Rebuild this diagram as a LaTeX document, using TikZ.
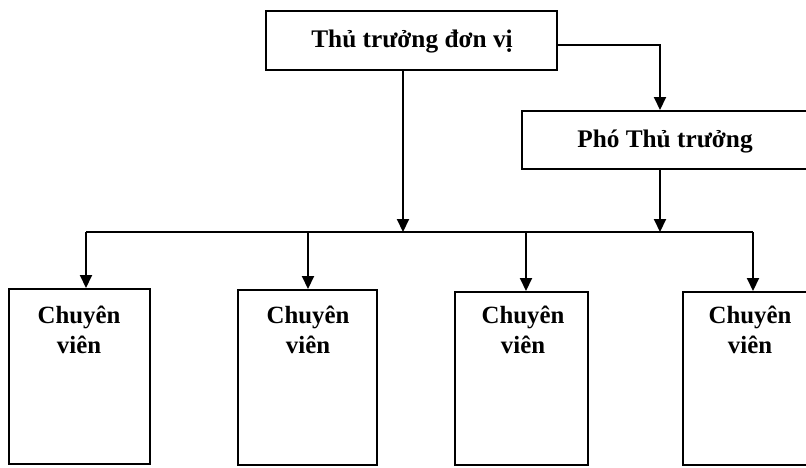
\documentclass[tikz,border=0pt]{standalone}
\usepackage{fontspec}
\setmainfont{Liberation Serif}
\usetikzlibrary{arrows.meta}
\begin{document}
\begin{tikzpicture}[x=1pt,y=-1pt,line width=2pt,
  box/.style={draw,line width=2pt,inner sep=0pt,rectangle},
  lbl/.style={font=\fontsize{25.3}{29}\selectfont\bfseries,anchor=base,inner sep=0pt},
  cv/.style={font=\fontsize{24.8}{28}\selectfont\bfseries,anchor=base,inner sep=0pt},
  arr/.style={-{Triangle[width=12pt,length=13pt]},line width=2pt}]
\useasboundingbox (0,0) rectangle (806,467);
\clip (0,0) rectangle (806,467);
% boxes
\node[box,minimum width=291pt,minimum height=59pt] (top) at (411.5,40.5) {};
\node[box,minimum width=286pt,minimum height=58pt] (pho) at (665,140) {};
\node[box,minimum width=141pt,minimum height=175pt] (c1) at (79.5,376.5) {};
\node[box,minimum width=139pt,minimum height=175pt] (c2) at (307.5,377.5) {};
\node[box,minimum width=133pt,minimum height=173pt] (c3) at (521.5,378.5) {};
\node[box,minimum width=134pt,minimum height=173pt] (c4) at (750,378.5) {};
% labels
\node[lbl] (ttop) at (412,47) {Thủ trưởng đơn vị};
\node[lbl] (tpho) at (665,147) {Phó Thủ trưởng};
\node[cv] (t1a) at (79,323) {Chuyên};
\node[cv] (t1b) at (79,353) {viên};
\node[cv] (t2a) at (308,323) {Chuyên};
\node[cv] (t2b) at (308,353) {viên};
\node[cv] (t3a) at (523,323) {Chuyên};
\node[cv] (t3b) at (523,353) {viên};
\node[cv] (t4a) at (750,323) {Chuyên};
\node[cv] (t4b) at (750,353) {viên};
% connectors
\coordinate (k) at (660,45);
\coordinate (m) at (403,232);
\coordinate (j1) at (86,232);
\coordinate (j2) at (308,232);
\coordinate (j3) at (526,232);
\coordinate (j4) at (753,232);
\draw[arr] (top.east |- k) -| (pho.north -| k);
\draw[arr] (top.south -| m) -- (m);
\draw[arr] (pho.south -| k) -- (k |- j1);
\draw (j1) -- (j4);
\draw[arr] (j1) -- (j1 |- c1.north);
\draw[arr] (j2) -- (j2 |- c2.north);
\draw[arr] (j3) -- (j3 |- c3.north);
\draw[arr] (j4) -- (j4 |- c4.north);
\end{tikzpicture}
\end{document}
